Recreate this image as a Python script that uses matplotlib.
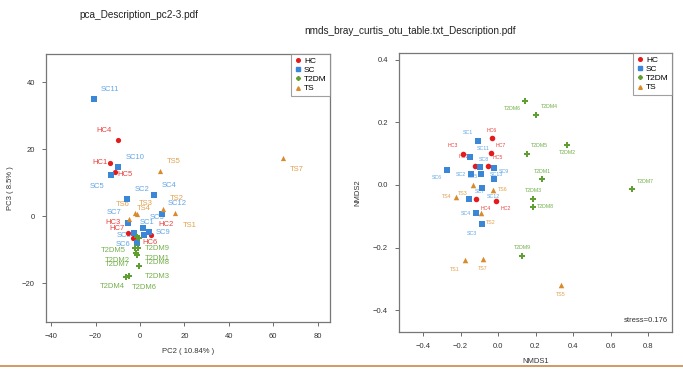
import matplotlib
matplotlib.use("Agg")
import matplotlib.pyplot as plt
from matplotlib.lines import Line2D

plt.rcParams['font.family'] = ['Liberation Sans', 'DejaVu Sans']

groups = ["HC", "SC", "T2DM", "TS"]
colors = {"HC": "#e41a1c", "SC": "#3a87d8", "T2DM": "#5e9f2f", "TS": "#d98a2a"}
label_colors = {"HC": "#e8433f", "SC": "#62a6e6", "T2DM": "#72b04a", "TS": "#e0a04e"}
markers = {"HC": "o", "SC": "s", "T2DM": "P", "TS": "^"}

# ---------------- PCA (PC2 vs PC3) ----------------
pca_HC_names = ["HC1", "HC2", "HC3", "HC4", "HC5", "HC6", "HC7"]
pca_HC_x = [-13.5, 5.0, -5.4, -9.9, -11.3, -1.8, -3.2]
pca_HC_y = [15.8, -5.7, -5.1, 22.7, 13.1, -7.8, -6.6]

pca_SC_names = ["SC1", "SC2", "SC3", "SC4", "SC5", "SC6", "SC7", "SC8", "SC9", "SC10", "SC11", "SC12"]
pca_SC_x = [-2.7, -5.9, 1.4, 6.3, -13.1, -1.4, -5.4, 1.8, 4.1, -9.9, -20.7, 9.9]
pca_SC_y = [-5.1, 5.1, -3.6, 6.3, 12.2, -8.1, -2.1, -5.7, -4.8, 14.6, 34.9, 0.6]

pca_T2DM_names = ["T2DM1", "T2DM2", "T2DM3", "T2DM4", "T2DM5", "T2DM6", "T2DM7", "T2DM8", "T2DM9"]
pca_T2DM_x = [-0.9, -2.3, -0.5, -6.3, -1.4, -5.0, -1.8, -1.4, -0.5]
pca_T2DM_y = [-9.6, -9.6, -14.9, -18.2, -6.3, -17.9, -11.0, -11.6, -6.6]

pca_TS_names = ["TS1", "TS2", "TS3", "TS4", "TS5", "TS6", "TS7"]
pca_TS_x = [15.8, 10.4, -2.3, -5.0, 9.0, -1.4, 64.4]
pca_TS_y = [0.9, 2.1, 0.9, -0.9, 13.4, 0.6, 17.3]

# label offsets (pixels, image-style: +y down)
pca_off = {
    "HC1": (-10, -1), "HC2": (15, -11), "HC3": (-15, -11), "HC4": (-14, -10), "HC5": (10, 2),
    "HC6": (14, 0), "HC7": (-16, -10),
    "SC1": (13, -11), "SC2": (15, -10), "SC3": (14, -11), "SC4": (15, -10), "SC5": (-14, 11),
    "SC6": (-14, 1), "SC7": (-14, -11), "SC8": (-20, 0), "SC9": (14, 0), "SC10": (17, -10),
    "SC11": (16, -10), "SC12": (15, -11),
    "T2DM1": (19, 10), "T2DM2": (-18, 12), "T2DM3": (18, 10), "T2DM4": (-14, 9), "T2DM5": (-24, 13),
    "T2DM6": (15, 11), "T2DM7": (-19, 12), "T2DM8": (20, 7), "T2DM9": (18, 10),
    "TS1": (15, 12), "TS2": (14, -11), "TS3": (11, -10), "TS4": (15, -11), "TS5": (14, -10),
    "TS6": (-14, -10), "TS7": (14, 11),
}

# ---------------- NMDS ----------------
nm_HC_names = ["HC1", "HC2", "HC3", "HC4", "HC5", "HC6", "HC7"]
nm_HC_x = [-0.123, -0.011, -0.187, -0.117, -0.053, -0.032, -0.037]
nm_HC_y = [0.061, -0.051, 0.099, -0.045, 0.061, 0.150, 0.102]

nm_SC_names = ["SC1", "SC2", "SC3", "SC4", "SC5", "SC6", "SC7", "SC8", "SC9", "SC11", "SC12", "SC13"]
nm_SC_x = [-0.107, -0.144, -0.085, -0.117, -0.091, -0.272, -0.155, -0.096, -0.021, -0.149, -0.085, -0.021]
nm_SC_y = [0.141, 0.035, -0.125, -0.090, 0.035, 0.048, -0.045, 0.058, 0.054, 0.090, -0.010, 0.019]

nm_T2DM_names = ["T2DM1", "T2DM2", "T2DM3", "T2DM4", "T2DM5", "T2DM6", "T2DM7", "T2DM8", "T2DM9"]
nm_T2DM_x = [0.235, 0.368, 0.187, 0.203, 0.155, 0.144, 0.715, 0.187, 0.128]
nm_T2DM_y = [0.019, 0.128, -0.045, 0.224, 0.099, 0.269, -0.013, -0.070, -0.227]

nm_TS_names = ["TS1", "TS2", "TS3", "TS4", "TS5", "TS6", "TS7"]
nm_TS_x = [-0.176, -0.091, -0.133, -0.224, 0.336, -0.027, -0.080]
nm_TS_y = [-0.240, -0.090, 0.0, -0.038, -0.320, -0.016, -0.237]

nm_off = {
    "HC1": (-11, -9), "HC2": (10, 8), "HC3": (-10, -9), "HC4": (10, 9), "HC5": (10, -8),
    "HC6": (0, -8), "HC7": (10, -8),
    "SC1": (-10, -8), "SC2": (-10, 0), "SC3": (-10, 9), "SC4": (-10, 0), "SC5": (-8, 2),
    "SC6": (-10, 8), "SC7": (11, -8), "SC8": (4, -7), "SC9": (10, 3), "SC11": (13, -8),
    "SC12": (11, 8), "SC13": (2, -5),
    "T2DM1": (0, -8), "T2DM2": (0, 8), "T2DM3": (0, -9), "T2DM4": (13, -8), "T2DM5": (12, -9),
    "T2DM6": (-13, 8), "T2DM7": (13, -8), "T2DM8": (12, 0), "T2DM9": (0, -8),
    "TS1": (-10, 9), "TS2": (10, 9), "TS3": (-10, 9), "TS4": (-9, 0), "TS5": (0, 9),
    "TS6": (10, 0), "TS7": (0, 9),
}

pca_data = {
    "HC": (pca_HC_names, pca_HC_x, pca_HC_y),
    "SC": (pca_SC_names, pca_SC_x, pca_SC_y),
    "T2DM": (pca_T2DM_names, pca_T2DM_x, pca_T2DM_y),
    "TS": (pca_TS_names, pca_TS_x, pca_TS_y),
}
nm_data = {
    "HC": (nm_HC_names, nm_HC_x, nm_HC_y),
    "SC": (nm_SC_names, nm_SC_x, nm_SC_y),
    "T2DM": (nm_T2DM_names, nm_T2DM_x, nm_T2DM_y),
    "TS": (nm_TS_names, nm_TS_x, nm_TS_y),
}

fig = plt.figure(figsize=(6.83, 3.72), dpi=100)
fig.patch.set_facecolor("white")

ax1 = fig.add_axes([46/683, 1-322/372, 284/683, 268/372])
ax2 = fig.add_axes([399/683, 1-332/372, 273/683, 279/372])


def style_axes(ax):
    for s in ax.spines.values():
        s.set_color("#777777")
        s.set_linewidth(0.9)
    ax.tick_params(direction="out", length=3, width=0.6, colors="#555555",
                   labelsize=5.5, labelcolor="#333333", pad=5)


def draw(ax, data, offs, ms, fs):
    for g in groups:
        names, xs, ys = data[g]
        ax.scatter(xs, ys, marker=markers[g], s=ms, color=colors[g], linewidths=0, zorder=3)
    for g in groups:
        names, xs, ys = data[g]
        for n, x, y in zip(names, xs, ys):
            dx, dy = offs.get(n, (10, -8))
            ax.annotate(n, (x, y), xytext=(dx, -dy), textcoords="offset pixels",
                        ha="center", va="center", fontsize=fs, color=label_colors[g], zorder=2)


def legend(ax, fs):
    handles = [Line2D([], [], linestyle="none", marker=markers[g], color=colors[g],
                      markersize=2.6) for g in groups]
    leg = ax.legend(handles, groups, loc="upper right", fontsize=fs, frameon=True,
                    fancybox=False, borderaxespad=0, handletextpad=0.2, handlelength=1.0,
                    labelspacing=0.15, borderpad=0.4)
    leg.get_frame().set_edgecolor("#888888")
    leg.get_frame().set_linewidth(0.8)


# left
draw(ax1, pca_data, pca_off, 14, 5.5)
ax1.set_xlim(-42.3, 85.6)
ax1.set_ylim(-31.6, 48.4)
ax1.set_xticks([-40, -20, 0, 20, 40, 60, 80])
ax1.set_yticks([-20, 0, 20, 40])
style_axes(ax1)
ax1.set_xlabel("PC2 ( 10.84% )", fontsize=5.5, color="#333333", labelpad=6)
ax1.set_ylabel("PC3 ( 8.5% )", fontsize=5.5, color="#333333", labelpad=6)
legend(ax1, 6)

# right
draw(ax2, nm_data, nm_off, 16, 3.8)
ax2.set_xlim(-0.528, 0.928)
ax2.set_ylim(-0.470, 0.422)
ax2.set_xticks([-0.4, -0.2, 0.0, 0.2, 0.4, 0.6, 0.8])
ax2.set_yticks([-0.4, -0.2, 0.0, 0.2, 0.4])
ax2.set_xticklabels(["\u22120.4", "\u22120.2", "0.0", "0.2", "0.4", "0.6", "0.8"])
ax2.set_yticklabels(["\u22120.4", "\u22120.2", "0.0", "0.2", "0.4"])
style_axes(ax2)
ax2.set_xlabel("NMDS1", fontsize=5.5, color="#333333", labelpad=6)
ax2.set_ylabel("NMDS2", fontsize=5.5, color="#333333", labelpad=8)
ax2.text(0.985, 0.03, "stress=0.176", transform=ax2.transAxes, ha="right", va="bottom",
         fontsize=5.5, color="#333333")
legend(ax2, 6)

# titles
fig.text(139/683, 1-15/372, "pca_Description_pc2-3.pdf", ha="center", va="center",
         fontsize=7.2, color="#222222")
fig.text(410/683, 1-31/372, "nmds_bray_curtis_otu_table.txt_Description.pdf", ha="center",
         va="center", fontsize=7.2, color="#222222")

# bottom separator line
fig.add_artist(Line2D([0, 1], [1-366/372, 1-366/372], transform=fig.transFigure,
                      color="#c9884a", linewidth=1.2))

fig.savefig("out.png", dpi=100)
